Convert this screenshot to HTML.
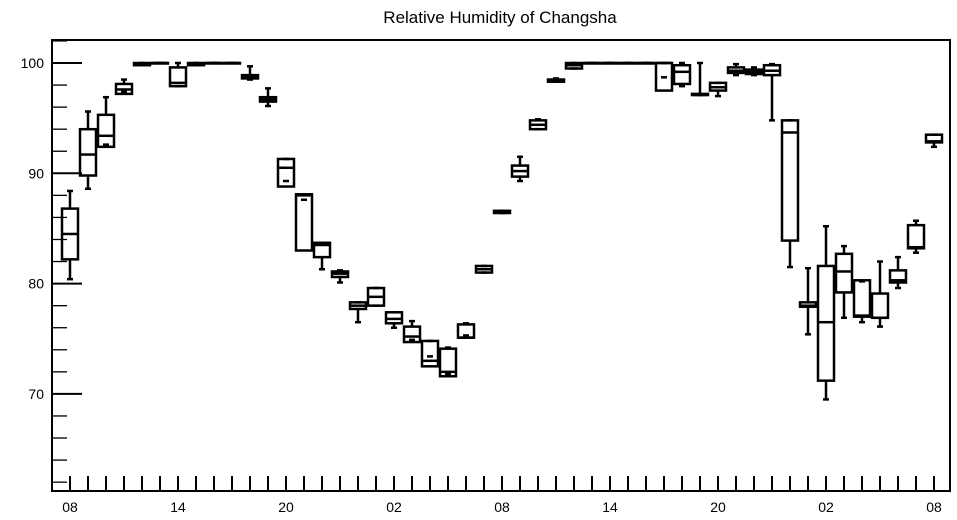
<!DOCTYPE html>
<html><head><meta charset="utf-8"><style>
body{margin:0;background:#fff;}
svg{display:block;font-family:"Liberation Sans",sans-serif;}
</style></head><body>
<svg id="chart" width="957" height="520">
<text x="500" y="23" text-anchor="middle" font-size="17">Relative Humidity of Changsha</text>
<g id="axes"></g><g id="boxes"></g>
</svg>
<script>
const hourLabels=["08","14","20","02","08","14","20","02","08"];
const yTicks=[70,80,90,100];
const q3=[86.8,94.0,95.3,98.1,100,100,99.6,100,100,100,98.9,96.9,91.3,88.1,83.7,81.1,78.3,79.6,77.4,76.1,74.8,74.1,76.3,81.6,86.6,90.7,94.8,98.5,100,100,100,100,100,100,99.8,97.2,98.2,99.6,99.4,99.8,94.8,78.3,81.6,82.7,80.3,79.1,81.2,85.3,93.5];
const med=[84.5,91.7,93.4,97.6,99.9,100,98.2,99.9,100,100,98.7,96.7,90.5,88.0,83.5,80.9,78.0,78.8,76.8,75.2,73.0,72.0,75.1,81.3,86.5,90.2,94.4,98.4,99.8,100,100,100,100,100,99.2,97.1,97.8,99.3,99.2,99.3,93.7,78.0,76.5,81.1,77.1,76.9,80.3,83.3,92.9];
const q1=[82.2,89.8,92.4,97.2,99.8,100,97.9,99.8,100,100,98.6,96.5,88.8,83.0,82.4,80.6,77.7,78.0,76.4,74.7,72.5,71.6,75.1,81.0,86.4,89.7,94.0,98.3,99.5,100,100,100,100,97.5,98.1,97.1,97.5,99.1,99.0,98.9,83.9,77.9,71.2,79.2,77.0,76.9,80.1,83.2,92.8];
const hi=[88.4,95.6,96.9,98.5,100,100,100,100,100,100,99.7,97.7,91.3,88.1,83.7,81.2,78.3,79.6,77.4,76.6,74.8,74.2,76.4,81.6,86.6,91.5,94.9,98.6,100,100,100,100,100,100,100,100,98.2,99.9,99.6,99.9,94.8,81.4,85.2,83.4,80.2,82.0,82.4,85.7,93.5];
const lo=[80.4,88.6,92.6,97.4,99.8,100,97.9,99.8,100,100,98.5,96.1,89.3,87.6,81.3,80.1,76.5,78.0,76.0,74.9,73.4,71.8,75.3,81.0,86.4,89.3,94.0,98.3,99.5,100,100,100,100,98.7,97.9,97.1,97.0,98.9,98.9,94.8,81.5,75.4,69.5,76.9,76.5,76.1,79.6,82.8,92.4];
const X0=52,X1=950,Y0=40,Y1=491;
const xs=i=>70+i*18;
const ys=v=>63+(100-v)*11.03;
const NS="http://www.w3.org/2000/svg";
function mk(p,tag,a){const e=document.createElementNS(NS,tag);for(const k in a)e.setAttribute(k,a[k]);p.appendChild(e);return e;}
const ax=document.getElementById('axes');
const frame=mk(ax,'rect',{x:X0,y:Y0,width:X1-X0,height:Y1-Y0,fill:'none',stroke:'#000','stroke-width':2});

for(let v=62;v<=102;v+=2){
  const major=yTicks.includes(v);
  const t=mk(ax,'line',{x1:X0,x2:X0+(major?30:15),y1:ys(v),y2:ys(v),stroke:'#000','stroke-width':major?2:1.3});
  
}
yTicks.forEach(v=>{const t=mk(ax,'text',{x:X0-8,y:ys(v)+5,'text-anchor':'end','font-size':14});t.textContent=v;
  });
for(let i=0;i<q3.length;i++){
  const t=mk(ax,'line',{x1:xs(i),x2:xs(i),y1:Y1-15,y2:Y1,stroke:'#000','stroke-width':2});
  
}
hourLabels.forEach((s,k)=>{const t=mk(ax,'text',{x:xs(k*6),y:512,'text-anchor':'middle','font-size':14});t.textContent=s;
  });
const bx=document.getElementById('boxes');
for(let i=0;i<q3.length;i++){
  const g=mk(bx,'g',{stroke:'#000','stroke-width':2.5,fill:'none'});
  
  const c=xs(i),w=8;
  mk(g,'rect',{x:c-w,y:ys(q3[i]),width:2*w,height:Math.max(ys(q1[i])-ys(q3[i]),0.5)});
  mk(g,'line',{x1:c-w,x2:c+w,y1:ys(med[i]),y2:ys(med[i])});
  if(hi[i]>q3[i]) mk(g,'line',{x1:c,x2:c,y1:ys(q3[i]),y2:ys(hi[i])});
  mk(g,'line',{x1:c-3,x2:c+3,y1:ys(hi[i]),y2:ys(hi[i])});
  if(lo[i]<q1[i]) mk(g,'line',{x1:c,x2:c,y1:ys(q1[i]),y2:ys(lo[i])});
  mk(g,'line',{x1:c-3,x2:c+3,y1:ys(lo[i]),y2:ys(lo[i])});
}
</script>
</body></html>
